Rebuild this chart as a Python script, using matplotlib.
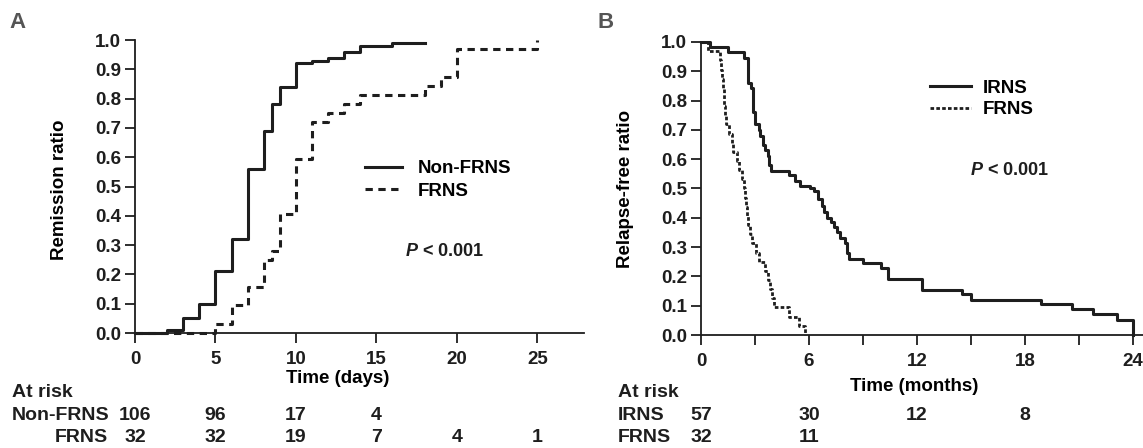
import numpy as np
import matplotlib
matplotlib.use("Agg")
from matplotlib import pyplot as plt

plt.rcParams['font.family'] = ['Liberation Sans', 'DejaVu Sans']
plt.rcParams['font.weight'] = 'bold'
plt.rcParams['axes.labelweight'] = 'bold'
plt.rcParams['mathtext.fontset'] = 'custom'
plt.rcParams['mathtext.it'] = 'Liberation Sans:italic:bold'
plt.rcParams['mathtext.rm'] = 'Liberation Sans:bold'

# Panel A: cumulative remission (days)
a_non_t = [0, 2, 3, 4, 5, 6, 7, 8, 8.5, 9, 10, 11, 12, 13, 14, 16, 18]
a_non_p = [0, 0.01, 0.05, 0.10, 0.21, 0.32, 0.56, 0.69, 0.78, 0.84, 0.92, 0.93, 0.94, 0.96, 0.98, 0.99, 0.99]
a_frns_t = [0, 5, 6, 7, 8, 8.5, 9, 10, 11, 12, 13, 14, 18, 19, 20, 25]
a_frns_p = [0, 0.031, 0.094, 0.156, 0.25, 0.281, 0.406, 0.594, 0.719, 0.75, 0.781, 0.8125, 0.844, 0.875, 0.969, 1.0]

# Panel B: relapse-free (months)
b_irns_t = [0, 0.5, 1.5, 2.4, 2.6, 2.8, 2.9, 3.0, 3.2, 3.3, 3.45, 3.55, 3.7, 3.8, 3.9, 4.9, 5.2, 5.5,
            6.05, 6.3, 6.5, 6.7, 6.85, 7.0, 7.2, 7.4, 7.55, 7.7, 8.0, 8.1, 8.2, 9.0, 10.0, 10.4,
            12.3, 14.5, 15.0, 18.9, 20.6, 21.8, 23.1, 24.0]
b_irns_p = [1.0, 0.982, 0.965, 0.947, 0.86, 0.842, 0.76, 0.72, 0.70, 0.68, 0.65, 0.63, 0.61, 0.58, 0.56, 0.545, 0.525, 0.51,
            0.50, 0.49, 0.465, 0.44, 0.42, 0.40, 0.385, 0.37, 0.35, 0.33, 0.315, 0.28, 0.26, 0.245, 0.23, 0.19,
            0.155, 0.14, 0.12, 0.105, 0.088, 0.07, 0.052, 0.0]
b_frns_t = [0, 0.4, 1.05, 1.1, 1.15, 1.2, 1.25, 1.3, 1.35, 1.4, 1.55, 1.7, 1.8, 2.0, 2.1, 2.3, 2.4,
            2.45, 2.5, 2.55, 2.6, 2.7, 2.85, 3.05, 3.2, 3.55, 3.7, 3.85, 3.95, 4.05, 4.9, 5.45, 5.8]
b_frns_p = [1.0, 0.969, 0.9375, 0.906, 0.875, 0.844, 0.8125, 0.781, 0.75, 0.719, 0.6875, 0.656, 0.625, 0.594, 0.5625, 0.531, 0.5,
            0.469, 0.4375, 0.406, 0.375, 0.344, 0.3125, 0.281, 0.25, 0.219, 0.1875, 0.156, 0.125, 0.094, 0.0625, 0.031, 0.0]

# at-risk tables
a_risk_t = [0, 5, 10, 15, 20, 25]
a_risk_non = ['106', '96', '17', '4']
a_risk_frns = ['32', '32', '19', '7', '4', '1']
b_risk_t = [0, 6, 12, 18]
b_risk_irns = ['57', '30', '12', '8']
b_risk_frns = ['32', '11']

ink = '#1e1e1e'
fig = plt.figure(figsize=(11.43, 4.48), dpi=100)
W, H = 1143, 448


def make_ax(l, r, top, bot):
    ax = fig.add_axes([l / W, 1 - bot / H, (r - l) / W, (bot - top) / H])
    for s in ['top', 'right']:
        ax.spines[s].set_visible(False)
    for s in ['left', 'bottom']:
        ax.spines[s].set_linewidth(1.3)
        ax.spines[s].set_color(ink)
    ax.tick_params(direction='out', length=7, width=1.3, colors=ink, labelsize=13.5, pad=3)
    ax.tick_params(axis='x', pad=6)
    ax.set_ylim(0, 1.0)
    ax.set_yticks(np.arange(0, 1.01, 0.1))
    ax.set_yticklabels(['%.1f' % v for v in np.arange(0, 1.01, 0.1)])
    return ax


# ---- panel A
axA = make_ax(135, 584, 40, 333)
axA.set_xlim(0, 27.9)
axA.set_xticks([0, 5, 10, 15, 20, 25])
axA.step(a_non_t, a_non_p, where='post', color=ink, lw=2.2, label='Non-FRNS', clip_on=False)
axA.step(a_frns_t, a_frns_p, where='post', color=ink, lw=2.2, ls=(0, (2.4, 1.8)), label='FRNS', clip_on=False)
axA.set_ylabel('Remission ratio', fontsize=13.5)
axA.yaxis.set_label_coords(-0.15, 0.49)
axA.set_xlabel('Time (days)', fontsize=13.5)
axA.xaxis.set_label_coords(0.452, -0.125)
axA.legend(loc='upper left', bbox_to_anchor=(0.512, 0.59), frameon=False, fontsize=13.5,
           handlelength=2.0, handletextpad=0.8, labelspacing=0.3, borderpad=0, borderaxespad=0)
axA.text(0.601, 0.277, '$P$ < 0.001', transform=axA.transAxes, fontsize=13, va='center', color=ink)

# ---- panel B
axB = make_ax(701, 1143, 42, 335)
axB.set_xlim(0, 24.55)
axB.set_xticks(np.arange(0, 25, 3))
axB.set_xticklabels([str(v) if v % 6 == 0 else '' for v in range(0, 25, 3)])
axB.step(b_irns_t, b_irns_p, where='post', color=ink, lw=2.2, label='IRNS', clip_on=False)
axB.step(b_frns_t, b_frns_p, where='post', color=ink, lw=2.0, ls=(0, (1.3, 0.8)), label='FRNS', clip_on=False)
axB.set_ylabel('Relapse-free ratio', fontsize=13.5)
axB.yaxis.set_label_coords(-0.152, 0.5)
axB.set_xlabel('Time (months)', fontsize=13.5)
axB.xaxis.set_label_coords(0.482, -0.147)
axB.legend(loc='upper left', bbox_to_anchor=(0.518, 0.872), frameon=False, fontsize=13.5,
           handlelength=2.2, handletextpad=0.6, labelspacing=0.25, borderpad=0, borderaxespad=0)
axB.text(0.609, 0.563, '$P$ < 0.001', transform=axB.transAxes, fontsize=13, va='center', color=ink)

# ---- at-risk tables
rows_y = [392, 415, 437]
fs = 14
fig.text(12 / W, 1 - rows_y[0] / H, 'At risk', fontsize=fs, va='center', color=ink)
fig.text(12 / W, 1 - rows_y[1] / H, 'Non-FRNS', fontsize=fs, va='center', color=ink)
fig.text(108 / W, 1 - rows_y[2] / H, 'FRNS', fontsize=fs, va='center', ha='right', color=ink)
tA = axA.get_xaxis_transform()
for t, n in zip(a_risk_t, a_risk_non):
    axA.text(t, (333 - rows_y[1]) / 293, n, transform=tA, ha='center', va='center', fontsize=fs,
             color=ink, clip_on=False)
for t, n in zip(a_risk_t, a_risk_frns):
    axA.text(t, (333 - rows_y[2]) / 293, n, transform=tA, ha='center', va='center', fontsize=fs,
             color=ink, clip_on=False)

fig.text(618 / W, 1 - rows_y[0] / H, 'At risk', fontsize=fs, va='center', color=ink)
fig.text(618 / W, 1 - rows_y[1] / H, 'IRNS', fontsize=fs, va='center', color=ink)
fig.text(618 / W, 1 - rows_y[2] / H, 'FRNS', fontsize=fs, va='center', color=ink)
tB = axB.get_xaxis_transform()
for t, n in zip(b_risk_t, b_risk_irns):
    axB.text(t, (335 - rows_y[1]) / 293, n, transform=tB, ha='center', va='center', fontsize=fs,
             color=ink, clip_on=False)
for t, n in zip(b_risk_t, b_risk_frns):
    axB.text(t, (335 - rows_y[2]) / 293, n, transform=tB, ha='center', va='center', fontsize=fs,
             color=ink, clip_on=False)

# panel letters
fig.text(18 / W, 1 - 22 / H, 'A', fontsize=16, ha='center', va='center', color='#555555')
fig.text(606 / W, 1 - 22 / H, 'B', fontsize=16, ha='center', va='center', color='#555555')

fig.savefig('out.png', dpi=100)
